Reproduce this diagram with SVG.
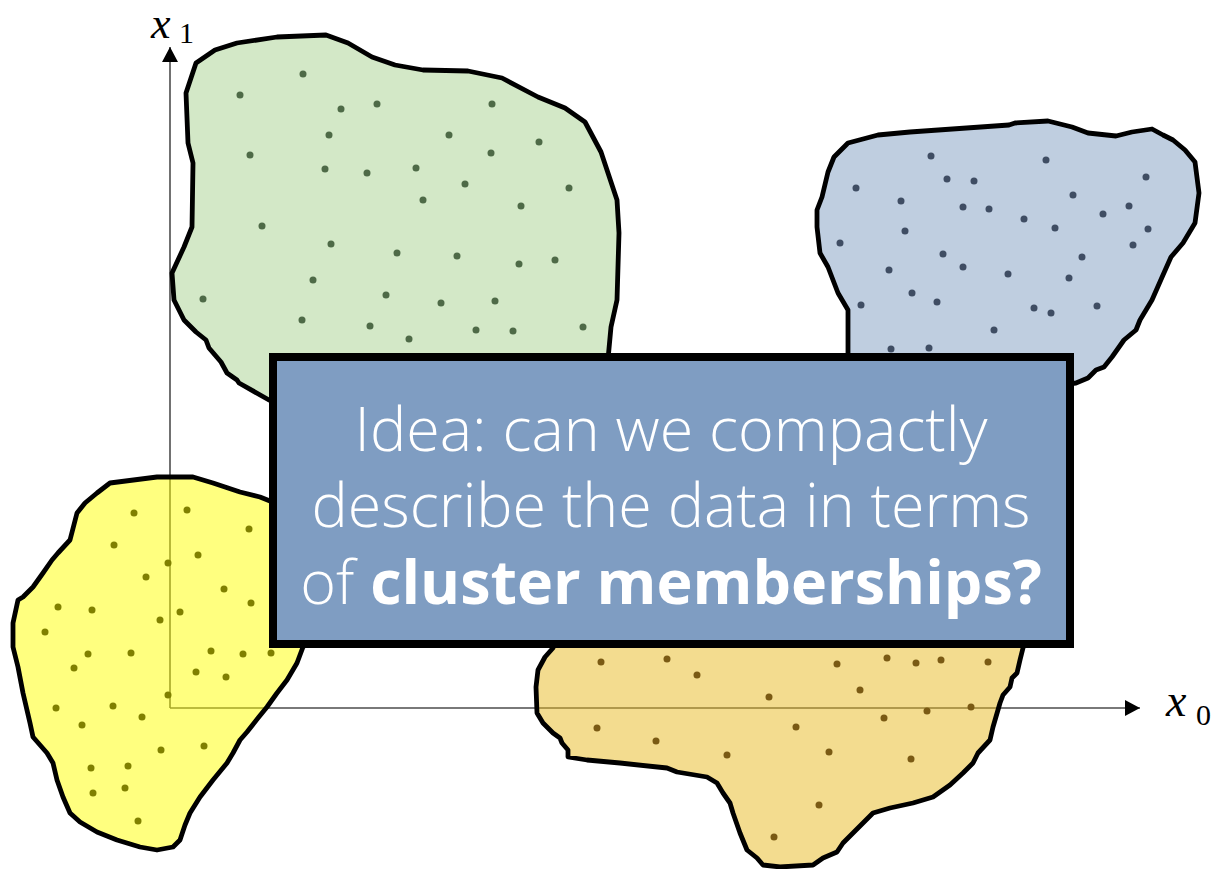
<svg xmlns="http://www.w3.org/2000/svg" width="1216" height="869" viewBox="0 0 1216 869">
<style>
.ax{stroke:#4d4d4d;stroke-width:1.6;fill:none}
.blob{stroke:#000;stroke-width:4.8;stroke-linejoin:round;fill-opacity:0.5}
.lbl{font-family:"Liberation Serif",serif;fill:#000}
.t{font-family:"Open Sans",sans-serif;font-weight:300;font-size:61px;fill:#fff}
</style>
<defs>
<marker id="ah" markerWidth="16" markerHeight="16" refX="15" refY="8" orient="auto" markerUnits="userSpaceOnUse">
<path d="M0,0 L15,8 L0,16 Z" fill="#000"/>
</marker>
</defs>
<rect width="1216" height="869" fill="#fff"/>
<g id="axes">
<line class="ax" x1="170" y1="708" x2="170" y2="47" marker-end="url(#ah)"/>
<line class="ax" x1="170" y1="708" x2="1140" y2="708" marker-end="url(#ah)"/>
<text class="lbl" x="151" y="38" font-size="44" font-style="italic">x</text>
<text class="lbl" x="179" y="43" font-size="30">1</text>
<text class="lbl" x="1166" y="716" font-size="46" font-style="italic">x</text>
<text class="lbl" x="1196" y="725" font-size="30">0</text>
</g>
<g id="cluster-green">
<path class="blob" fill="#A7D18F" d="M326,35 L348,43 L372,57 L395,65 L423,70 L468,71 L502,78 L538,97 L565,108 L585,122 L601,152 L612,185 L617,200 L619,233 L617,300 L611,327 L607,370 L500,420 L269,400 L239,383 L237,380 L227,373 L221,362 L209,348 L206,340 L196,332 L184,320 L174,300 L172,273 L184,247 L192,227 L193,163 L188,143 L186,93 L196,63 L215,50 L237,43 L277,37 Z"/>
<g fill="#4E6A47">
<circle cx="303" cy="74" r="3.5"/><circle cx="240" cy="95" r="3.5"/><circle cx="341" cy="109" r="3.5"/><circle cx="377" cy="104" r="3.5"/><circle cx="492" cy="104" r="3.5"/><circle cx="329" cy="135" r="3.5"/><circle cx="449" cy="135" r="3.5"/><circle cx="539" cy="142" r="3.5"/><circle cx="250" cy="155" r="3.5"/><circle cx="491" cy="153" r="3.5"/><circle cx="325" cy="169" r="3.5"/><circle cx="367" cy="173" r="3.5"/><circle cx="416" cy="168" r="3.5"/><circle cx="465" cy="184" r="3.5"/><circle cx="569" cy="188" r="3.5"/><circle cx="423" cy="200" r="3.5"/><circle cx="521" cy="206" r="3.5"/><circle cx="262" cy="226" r="3.5"/><circle cx="331" cy="244" r="3.5"/><circle cx="397" cy="253" r="3.5"/><circle cx="457" cy="256" r="3.5"/><circle cx="519" cy="264" r="3.5"/><circle cx="555" cy="260" r="3.5"/><circle cx="313" cy="280" r="3.5"/><circle cx="386" cy="295" r="3.5"/><circle cx="441" cy="303" r="3.5"/><circle cx="495" cy="301" r="3.5"/><circle cx="203" cy="299" r="3.5"/><circle cx="302" cy="320" r="3.5"/><circle cx="370" cy="326" r="3.5"/><circle cx="476" cy="330" r="3.5"/><circle cx="513" cy="331" r="3.5"/><circle cx="583" cy="327" r="3.5"/><circle cx="409" cy="339" r="3.5"/>
</g>
</g>
<g id="cluster-blue">
<path class="blob" fill="#7F9DC1" d="M848,143 L878,135 L910,132 L1009,125 L1015,123 L1048,121 L1072,127 L1088,133 L1116,136 L1132,132 L1152,129 L1163,135 L1173,140 L1185,150 L1195,162 L1199,193 L1195,223 L1183,243 L1171,257 L1163,275 L1152,300 L1140,320 L1136,330 L1124,340 L1112,357 L1104,367 L1096,370 L1088,378 L1076,383 L1060,385 L848,370 L848,310 L838,293 L828,267 L820,253 L817,227 L817,210 L822,197 L828,172 L834,157 Z"/>
<g fill="#3F4D63">
<circle cx="931" cy="156" r="3.5"/><circle cx="1046" cy="160" r="3.5"/><circle cx="856" cy="188" r="3.5"/><circle cx="901" cy="201" r="3.5"/><circle cx="947" cy="179" r="3.5"/><circle cx="974" cy="181" r="3.5"/><circle cx="1073" cy="195" r="3.5"/><circle cx="1146" cy="177" r="3.5"/><circle cx="963" cy="207" r="3.5"/><circle cx="989" cy="209" r="3.5"/><circle cx="905" cy="231" r="3.5"/><circle cx="1024" cy="219" r="3.5"/><circle cx="1055" cy="228" r="3.5"/><circle cx="1103" cy="214" r="3.5"/><circle cx="1129" cy="206" r="3.5"/><circle cx="1148" cy="229" r="3.5"/><circle cx="1082" cy="257" r="3.5"/><circle cx="840" cy="243" r="3.5"/><circle cx="943" cy="254" r="3.5"/><circle cx="963" cy="267" r="3.5"/><circle cx="1133" cy="245" r="3.5"/><circle cx="889" cy="270" r="3.5"/><circle cx="1008" cy="274" r="3.5"/><circle cx="1069" cy="278" r="3.5"/><circle cx="912" cy="293" r="3.5"/><circle cx="937" cy="302" r="3.5"/><circle cx="1034" cy="308" r="3.5"/><circle cx="1051" cy="313" r="3.5"/><circle cx="1097" cy="306" r="3.5"/><circle cx="861" cy="305" r="3.5"/><circle cx="994" cy="330" r="3.5"/><circle cx="891" cy="349" r="3.5"/><circle cx="929" cy="348" r="3.5"/>
</g>
</g>
<g id="cluster-yellow">
<path class="blob" fill="#FFFF00" d="M110,483 L157,477 L193,477 L213,483 L240,492 L260,497 L280,505 L310,640 L303,647 L297,663 L287,680 L277,693 L267,707 L258,718 L247,732 L240,740 L233,753 L227,763 L213,780 L200,797 L190,813 L185,825 L180,840 L173,847 L157,850 L140,847 L117,840 L97,832 L80,822 L70,813 L63,797 L57,780 L53,763 L47,753 L33,737 L30,723 L23,693 L18,667 L13,647 L13,623 L18,600 L23,597 L33,587 L43,573 L52,560 L58,553 L70,540 L77,513 L85,503 L97,493 Z"/>
<g fill="#808000">
<circle cx="134" cy="513" r="3.5"/><circle cx="187" cy="510" r="3.5"/><circle cx="249" cy="529" r="3.5"/><circle cx="114" cy="545" r="3.5"/><circle cx="198" cy="555" r="3.5"/><circle cx="168" cy="563" r="3.5"/><circle cx="146" cy="577" r="3.5"/><circle cx="224" cy="589" r="3.5"/><circle cx="251" cy="603" r="3.5"/><circle cx="58" cy="607" r="3.5"/><circle cx="92" cy="610" r="3.5"/><circle cx="180" cy="612" r="3.5"/><circle cx="160" cy="620" r="3.5"/><circle cx="45" cy="632" r="3.5"/><circle cx="88" cy="654" r="3.5"/><circle cx="131" cy="653" r="3.5"/><circle cx="211" cy="651" r="3.5"/><circle cx="243" cy="654" r="3.5"/><circle cx="271" cy="653" r="3.5"/><circle cx="74" cy="668" r="3.5"/><circle cx="196" cy="672" r="3.5"/><circle cx="226" cy="677" r="3.5"/><circle cx="168" cy="695" r="3.5"/><circle cx="56" cy="708" r="3.5"/><circle cx="113" cy="706" r="3.5"/><circle cx="142" cy="717" r="3.5"/><circle cx="82" cy="725" r="3.5"/><circle cx="161" cy="750" r="3.5"/><circle cx="204" cy="746" r="3.5"/><circle cx="91" cy="768" r="3.5"/><circle cx="128" cy="766" r="3.5"/><circle cx="93" cy="793" r="3.5"/><circle cx="125" cy="788" r="3.5"/><circle cx="138" cy="821" r="3.5"/>
</g>
</g>
<g id="cluster-orange">
<path class="blob" fill="#E7B91F" d="M560,630 L553,648 L545,657 L538,670 L536,687 L537,713 L543,723 L553,733 L560,738 L562,743 L568,750 L568,757 L587,760 L620,763 L667,768 L677,772 L707,777 L717,783 L723,793 L730,803 L733,813 L740,833 L747,850 L757,858 L763,865 L780,867 L813,865 L823,858 L837,852 L843,843 L853,833 L863,823 L873,813 L890,808 L913,803 L933,797 L950,785 L963,773 L973,763 L978,753 L990,740 L993,727 L1000,703 L1003,695 L1010,687 L1012,678 L1017,673 L1020,660 L1023,648 L1028,630 Z"/>
<g fill="#7A5A14">
<circle cx="601" cy="662" r="3.5"/><circle cx="667" cy="659" r="3.5"/><circle cx="697" cy="675" r="3.5"/><circle cx="837" cy="664" r="3.5"/><circle cx="887" cy="658" r="3.5"/><circle cx="916" cy="663" r="3.5"/><circle cx="941" cy="660" r="3.5"/><circle cx="988" cy="662" r="3.5"/><circle cx="860" cy="690" r="3.5"/><circle cx="769" cy="697" r="3.5"/><circle cx="927" cy="711" r="3.5"/><circle cx="971" cy="707" r="3.5"/><circle cx="884" cy="718" r="3.5"/><circle cx="597" cy="728" r="3.5"/><circle cx="796" cy="727" r="3.5"/><circle cx="656" cy="741" r="3.5"/><circle cx="727" cy="755" r="3.5"/><circle cx="829" cy="752" r="3.5"/><circle cx="911" cy="759" r="3.5"/><circle cx="819" cy="805" r="3.5"/><circle cx="774" cy="837" r="3.5"/>
</g>
</g>
<g id="idea-box">
<rect x="273" y="357" width="797" height="287" fill="#7F9DC2" stroke="#000" stroke-width="8"/>
<text class="t" x="671" y="451" text-anchor="middle">Idea: can we compactly</text>
<text class="t" x="671" y="527" text-anchor="middle">describe the data in terms</text>
<text class="t" x="671" y="604" text-anchor="middle">of <tspan font-weight="700">cluster memberships?</tspan></text>
</g>
</svg>
